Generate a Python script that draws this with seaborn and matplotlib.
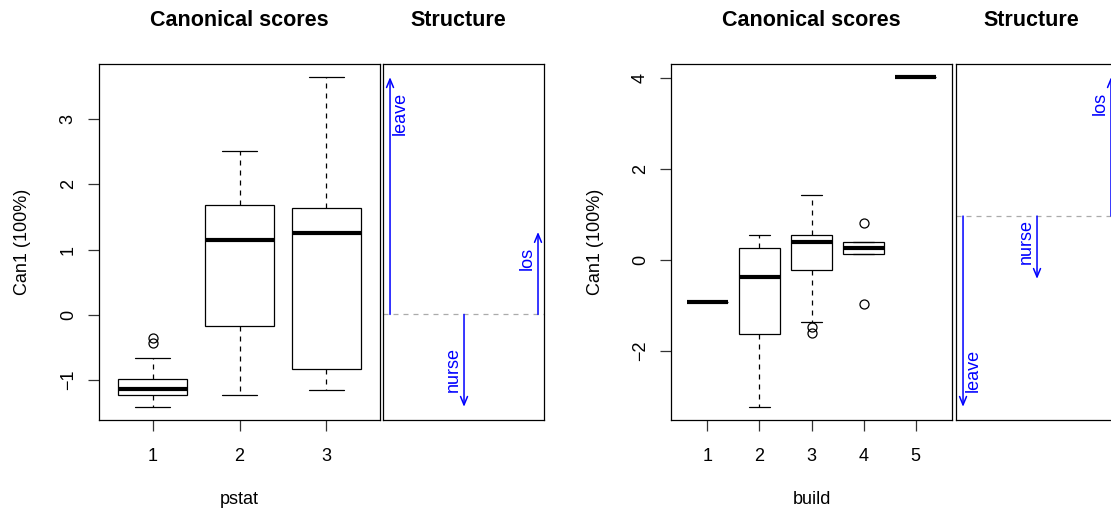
import numpy as np
import matplotlib
matplotlib.use("Agg")
import matplotlib.pyplot as plt
import seaborn as sns

# --- Canonical scores for pstat (box summaries) ---
pstat_groups = ["1", "2", "3"]
pstat_whislo = [-1.41, -1.23, -1.16]
pstat_q1 = [-1.23, -0.17, -0.83]
pstat_med = [-1.14, 1.14, 1.26]
pstat_q3 = [-0.985, 1.68, 1.64]
pstat_whishi = [-0.667, 2.51, 3.64]
pstat_fliers = [[-0.36, -0.43], [], []]

# --- Canonical scores for build ---
build_groups = ["1", "2", "3", "4", "5"]
build_whislo = [-0.935, -3.23, -1.355, 0.14, 4.02]
build_q1 = [-0.935, -1.63, -0.23, 0.14, 4.02]
build_med = [-0.935, -0.375, 0.40, 0.265, 4.02]
build_q3 = [-0.935, 0.26, 0.54, 0.40, 4.02]
build_whishi = [-0.935, 0.54, 1.43, 0.40, 4.02]
build_fliers = [[], [], [-1.48, -1.61], [0.815, -0.965], []]

# --- Structure coefficients ---
variables = ["leave", "nurse", "los"]
pstat_structure = [0.95, -0.37, 0.33]
build_structure = [-0.75, -0.247, 0.546]

sns.set_style("white")
plt.rcParams['font.family'] = ['Liberation Sans', 'DejaVu Sans']
plt.rcParams['axes.unicode_minus'] = True
plt.rcParams['text.color'] = 'black'
plt.rcParams['axes.labelcolor'] = 'black'

W, H = 1111, 514
fig = plt.figure(figsize=(W / 100, H / 100), dpi=100)


def px_axes(x0, x1, y0, y1):
    return fig.add_axes([x0 / W, 1 - y1 / H, (x1 - x0) / W, (y1 - y0) / H])


def style_frame(ax):
    for s in ax.spines.values():
        s.set_color('black')
        s.set_linewidth(0.9)
        s.set_visible(True)


def draw_scores(ax, groups, whislo, q1, med, q3, whishi, fliers, xlabel, ystep):
    stats = []
    for g, a, b, c, d, e, f in zip(groups, whislo, q1, med, q3, whishi, fliers):
        stats.append(dict(label=g, whislo=a, q1=b, med=c, q3=d, whishi=e, fliers=f))
    n = len(groups)
    pos = np.arange(1, n + 1)
    ax.bxp(stats, positions=pos, widths=0.8, patch_artist=True,
           boxprops=dict(facecolor='white', edgecolor='black', linewidth=0.9),
           medianprops=dict(color='black', linewidth=3.0, solid_capstyle='butt'),
           whiskerprops=dict(color='black', linewidth=0.9, linestyle=(0, (4, 4))),
           capprops=dict(color='black', linewidth=0.9),
           flierprops=dict(marker='o', markerfacecolor='none', markeredgecolor='black',
                           markersize=6.5, markeredgewidth=0.9))
    allv = whislo + whishi + [v for f in fliers for v in f]
    lo, hi = min(allv), max(allv)
    pad = 0.04 * (hi - lo)
    ax.set_ylim(lo - pad, hi + pad)
    ax.set_xlim(0.5 - 0.04 * n, n + 0.5 + 0.04 * n)
    ax.set_xticks(pos)
    ax.set_xticklabels(groups)
    ax.yaxis.set_major_locator(matplotlib.ticker.MultipleLocator(ystep))
    ax.tick_params(axis='both', direction='out', length=8, width=0.9, color='#333333',
                   labelcolor='black', labelsize=13, bottom=True, left=True)
    ax.tick_params(axis='x', pad=12)
    ax.tick_params(axis='y', pad=8)
    for lab in ax.get_yticklabels():
        lab.set_rotation(90)
        lab.set_va('center')
    ax.set_xlabel(xlabel, fontsize=13)
    ax.xaxis.set_label_coords(0.5, -80 / 356)
    ax.xaxis.label.set_va('center')
    ax.set_ylabel("Can1 (100%)", fontsize=13)
    ax.yaxis.set_label_coords(-76 / 281, 0.5)
    ax.yaxis.label.set_va('center')
    ax.text(0.5, 399 / 356, "Canonical scores", transform=ax.transAxes,
            ha='center', va='center', fontsize=15.5, fontweight='bold')
    style_frame(ax)


def draw_structure(ax, vals):
    x = np.arange(1, len(vals) + 1)
    ax.axhline(0, color='#aaaaaa', lw=0.9, ls=(0, (4, 4)))
    for i, (xi, v, name) in enumerate(zip(x, vals, variables)):
        ax.annotate("", xy=(xi, v), xytext=(xi, 0),
                    arrowprops=dict(arrowstyle='->,head_length=0.6,head_width=0.25',
                                    color='blue', lw=1.1, shrinkA=0, shrinkB=0,
                                    mutation_scale=10))
        side = 1 if i == 0 else -1
        up = v > 0
        ax.annotate(name, xy=(xi, v), xytext=(side * 1.5, -10.8 if up else 10.8),
                    textcoords='offset points', rotation=90,
                    ha='left' if side > 0 else 'right', va='top' if up else 'bottom',
                    color='blue', fontsize=13)
    lo, hi = min(min(vals), 0), max(max(vals), 0)
    pad = 0.04 * (hi - lo)
    ax.set_ylim(lo - pad, hi + pad)
    ax.set_xlim(1 - 0.095, len(vals) + 0.081)
    ax.set_xticks([])
    ax.set_yticks([])
    ax.text(0.47, 399 / 356, "Structure", transform=ax.transAxes,
            ha='center', va='center', fontsize=15.5, fontweight='bold')
    style_frame(ax)


ax1 = px_axes(99, 380, 64, 420)
ax2 = px_axes(383, 544, 64, 420)
ax3 = px_axes(671, 952, 64, 420)
ax4 = px_axes(956, 1117, 64, 420)

draw_scores(ax1, pstat_groups, pstat_whislo, pstat_q1, pstat_med, pstat_q3,
            pstat_whishi, pstat_fliers, "pstat", 1)
draw_structure(ax2, pstat_structure)
draw_scores(ax3, build_groups, build_whislo, build_q1, build_med, build_q3,
            build_whishi, build_fliers, "build", 2)
draw_structure(ax4, build_structure)

fig.savefig("out.png", dpi=100)
